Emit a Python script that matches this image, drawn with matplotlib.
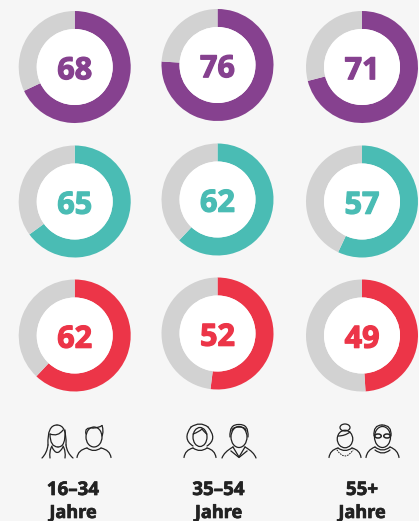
import numpy as np
import matplotlib
matplotlib.use("Agg")
from matplotlib import pyplot as plt
from matplotlib import patheffects as pe
from matplotlib.patches import Ellipse, Circle
from matplotlib.path import Path
from matplotlib.patches import PathPatch

W, H = 419, 521

# values
age_groups = ["16–34", "35–54", "55+"]
row_purple = [68, 76, 71]
row_teal = [65, 62, 57]
row_red = [62, 52, 49]

colors = ["#86418f", "#4abcb4", "#ec3548"]
grey = "#d2d2d2"
bg = "#f6f6f6"
ink = "#222222"

# donut centres in pixels
col_x = [74.7, 217.5, 362]
row_y = [67, 201.5, 335.5]
col_dy = [0, -2, 0]
r_outer = 56
r_inner = 38

plt.rcParams['font.family'] = ['Open Sans', 'DejaVu Sans']

fig = plt.figure(figsize=(W / 100, H / 100), dpi=100, facecolor=bg)


def donut(cx, cy, value, color):
    ax = fig.add_axes([(cx - r_outer) / W, 1 - (cy + r_outer) / H, 2 * r_outer / W, 2 * r_outer / H])
    ax.pie([value, 100 - value], colors=[color, grey], startangle=90, counterclock=False,
           radius=1, wedgeprops=dict(width=1 - r_inner / r_outer, linewidth=0))
    ax.add_patch(Circle((0, 0), r_inner / r_outer, color="white", lw=0))
    t = ax.text(0, -0.075, str(value), color=color, ha="center", va="center", fontsize=22, fontweight="bold")
    t.set_path_effects([pe.withStroke(linewidth=0.9, foreground=color)])
    ax.set_xlim(-1, 1)
    ax.set_ylim(-1, 1)
    ax.axis("off")


for i, vals in enumerate([row_purple, row_teal, row_red]):
    for j, v in enumerate(vals):
        donut(col_x[j], row_y[i] + col_dy[j], v, colors[i])

# overlay in pixel coords for the icons and labels
ov = fig.add_axes([0, 0, 1, 1], facecolor="none")
ov.set_xlim(0, W)
ov.set_ylim(H, 0)
ov.axis("off")


def line(pts, lw=0.9, ls="-"):
    codes = [Path.MOVETO] + [Path.CURVE3, Path.CURVE3] * ((len(pts) - 1) // 2)
    ov.add_patch(PathPatch(Path(pts, codes), fc="none", ec=ink, lw=lw, ls=ls, capstyle="round"))


def shoulders(cx, half, top=448, bottom=457.5):
    line([(cx - half, bottom), (cx - half + 1, top + 2), (cx - 7, top)])
    line([(cx + half, bottom), (cx + half - 1, top + 2), (cx + 7, top)])
    line([(cx - 7, top), (cx, top + 5), (cx + 7, top)])


def face(cx, cy, w, h):
    ov.add_patch(Ellipse((cx, cy), w, h, fc="none", ec=ink, lw=0.9))


# 16-34 woman
line([(50, 434), (58, 437), (63, 430)])
line([(50, 434), (50, 447), (58, 447)])
line([(58, 447), (66, 447), (65, 430)])
line([(48, 445), (47, 425), (57, 425)])
line([(57, 425), (67, 425), (66, 445)])
line([(48, 445), (47, 453), (42, 458)])
line([(66, 445), (67, 453), (73, 458)])
line([(50, 458), (49, 451), (52, 446)])
line([(65, 458), (66, 451), (63, 446)])
line([(52, 447), (57, 458), (63, 447)])
# 16-34 man
face(94, 437, 16, 20)
line([(86, 434), (84, 427), (93, 428)])
line([(93, 428), (99, 428), (102, 425.5)])
line([(102, 425.5), (104, 431), (102, 436)])
shoulders(94, 17)

# 35-54 woman
face(200, 437, 14, 19)
line([(193, 446), (182, 439), (191, 427)])
line([(191, 427), (200, 421), (208, 427)])
line([(208, 427), (218, 439), (207, 446)])
line([(193, 434), (199, 432), (202, 429)])
line([(202, 429), (205, 433), (207, 434)])
shoulders(200, 16)
# 35-54 man
face(239, 437, 16, 21)
line([(230, 437), (229, 424), (239, 424.5)])
line([(239, 424.5), (249, 424), (248, 437)])
line([(232, 431), (232, 427), (239, 427)])
line([(239, 427), (246, 427), (246, 431)])
line([(222, 458), (224, 452), (233, 447)])
line([(256, 458), (254, 452), (245, 447)])
ov.plot([233, 239, 245], [447, 457, 447], color=ink, lw=0.9)
ov.plot([231, 239, 247], [451, 457.5, 451], color=ink, lw=0.9)

# 55+ woman
face(345, 439, 15.5, 17.5)
ov.add_patch(Ellipse((345, 427.5), 10, 7, fc="none", ec=ink, lw=0.9))
line([(338, 436), (345, 436), (350, 432)])
shoulders(345, 16)
line([(337, 450), (345, 462), (353, 450)], lw=0.7, ls=":")
# 55+ man
face(382.5, 437, 16, 21)
line([(374, 436), (373, 425), (382, 425)])
line([(382, 425), (392, 425), (391, 436)])
ov.add_patch(Ellipse((378, 436), 6.5, 4, fc="none", ec=ink, lw=1.1))
ov.add_patch(Ellipse((387, 436), 6.5, 4, fc="none", ec=ink, lw=1.1))
line([(366, 457.5), (367, 450), (375, 447)])
line([(399, 457.5), (398, 450), (390, 447)])
line([(375, 447), (382.5, 453), (390, 447)])
line([(375, 450), (382.5, 456), (390, 450)])

# labels
label_x = [73, 218.5, 362]
for x, g in zip(label_x, age_groups):
    t = ov.text(x, 490, g, ha="center", va="center", fontsize=13.5, fontweight="bold", color=ink)
    t.set_path_effects([pe.withStroke(linewidth=0.5, foreground=ink)])
    t = ov.text(x, 513, "Jahre", ha="center", va="center", fontsize=13, fontweight="bold", color=ink)
    t.set_path_effects([pe.withStroke(linewidth=0.5, foreground=ink)])

fig.savefig("out.png", dpi=100, facecolor=bg)
